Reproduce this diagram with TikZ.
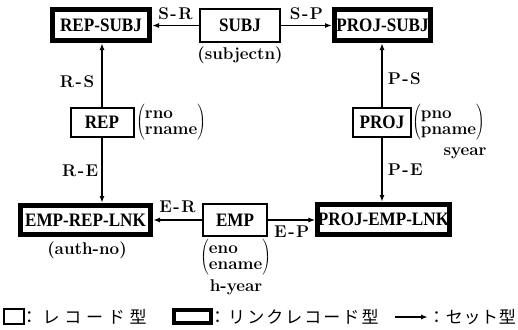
\documentclass[tikz,border=0pt]{standalone}
\usepackage{fontspec}
\usetikzlibrary{arrows.meta}
\newfontfamily\namefont[FakeStretch=0.9]{Liberation Serif}
\newfontfamily\jpfont{Noto Sans CJK JP}
\tikzset{
  rec/.style={draw, line width=2pt, inner sep=0pt, font=\namefont\bfseries\fontsize{19}{22}\selectfont},
  lnk/.style={draw, line width=5pt, inner sep=0pt, font=\namefont\bfseries\fontsize{19}{22}\selectfont},
  setarrow/.style={-{Latex[length=7pt,width=5pt]}, line width=1.5pt},
  lbl/.style={font=\bfseries\fontsize{17}{20}\selectfont, inner sep=1pt},
  attr/.style={font=\bfseries\fontsize{17}{20}\selectfont, inner sep=0pt},
  jp/.style={font=\jpfont\fontsize{17}{20}\selectfont, inner sep=0pt},
}
\newcommand{\dsh}[2]{#1\kern1.5pt-\kern1.5pt#2}
\begin{document}
\begin{tikzpicture}[x=1pt,y=-1pt]
\useasboundingbox (0,0) rectangle (518,329);
% record nodes
\node[lnk, minimum width=97pt, minimum height=31pt] (repsubj) at (101,25) {REP-SUBJ};
\node[rec, minimum width=80pt, minimum height=33pt] (subj) at (240,25.5) {SUBJ};
\node[lnk, minimum width=96pt, minimum height=31pt] (projsubj) at (382.5,25) {PROJ-SUBJ};
\node[rec, minimum width=63pt, minimum height=29pt] (rep) at (102,122.5) {REP};
\node[rec, minimum width=58pt, minimum height=29pt] (proj) at (382,122.5) {PROJ};
\node[lnk, minimum width=130pt, minimum height=29pt] (erl) at (85.5,220) {EMP-REP-LNK};
\node[rec, minimum width=64pt, minimum height=32pt] (emp) at (235,220) {EMP};
\node[lnk, minimum width=130pt, minimum height=30pt] (pel) at (383.5,219.5) {PROJ-EMP-LNK};
% sets
\draw[setarrow] (subj.west) -- node[lbl, above=4pt]{\dsh{S}{R}} (subj.west -| repsubj.east);
\draw[setarrow] (subj.east) -- node[lbl, above=4pt]{\dsh{S}{P}} (subj.east -| projsubj.west);
\draw[setarrow] (rep.north) -- node[lbl, left=6pt, pos=.4]{\dsh{R}{S}} (rep.north |- repsubj.south);
\draw[setarrow] (rep.south) -- node[lbl, left=2pt, pos=.5]{\dsh{R}{E}} (rep.south |- erl.north);
\draw[setarrow] (proj.north) -- node[lbl, right=4pt, pos=.44]{\dsh{P}{S}} (proj.north |- projsubj.south);
\draw[setarrow] (proj.south) -- node[lbl, right=4pt, pos=.5]{\dsh{P}{E}} (proj.south |- pel.north);
\draw[setarrow] (emp.west) -- node[lbl, above=6pt]{\dsh{E}{R}} (emp.west -| erl.east);
\draw[setarrow] (emp.east) -- node[lbl, below=4pt]{\dsh{E}{P}} (emp.east -| pel.west);
% attributes
\node[attr] (subjattr) at (240,55) {(subjectn)};
\node[attr] (authattr) at (87,250) {(auth-no)};
\node[attr, anchor=west] (repattr) at (136,122.5)
  {$\left(\begin{array}{@{}l@{}}\mbox{rno}\\[-4pt]\mbox{rname}\end{array}\right)$};
\node[attr, anchor=west] (projattr) at (412,122.5)
  {$\left(\begin{array}{@{}l@{}}\mbox{pno}\\[-4pt]\mbox{pname}\end{array}\right)$};
\node[attr] (syear) at (465,153) {syear};
\node[attr, anchor=west] (empattr) at (200,257)
  {$\left(\begin{array}{@{}l@{}}\mbox{eno}\\[-4pt]\mbox{ename}\end{array}\right)$};
\node[attr] (hyear) at (236,287) {h-year};
% legend
\node[draw, line width=1.5pt, minimum width=20pt, minimum height=15pt, inner sep=0pt] (lrec) at (14,316.5) {};
\node[jp, anchor=west, xshift=-4pt] (lt1) at (lrec.east) {\addfontfeature{LetterSpace=28}：レコード型};
\node[draw, line width=4pt, minimum width=37pt, minimum height=13pt, inner sep=0pt] (llnk) at (192.5,316.5) {};
\node[jp, anchor=west, xshift=-4pt] (lt2) at (llnk.east) {\addfontfeature{LetterSpace=12}：リンクレコード型};
\coordinate (la) at (395,317);
\node[jp, anchor=west, xshift=-5pt] (lt3) at (433,317) {\addfontfeature{LetterSpace=4}：セット型};
\draw[setarrow] (la) -- (lt3.west);
\end{tikzpicture}
\end{document}
